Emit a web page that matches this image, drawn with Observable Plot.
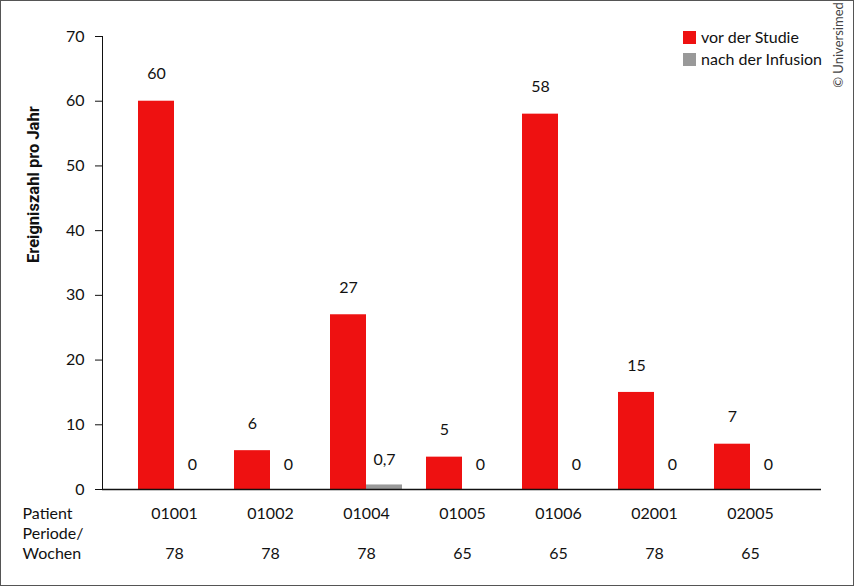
<!DOCTYPE html>
<html><head><meta charset="utf-8">
<script src="https://cdn.jsdelivr.net/npm/d3@7"></script>
<script src="https://cdn.jsdelivr.net/npm/@observablehq/plot@0.6"></script>
<style>
body{margin:0;background:#fff;}
#wrap{position:relative;width:854px;height:586px;overflow:hidden;font-family:Lato,"Noto Sans",sans-serif;color:#111;}
#border{position:absolute;left:0;top:0;width:852px;height:584px;border:1px solid #555;pointer-events:none;}
.legend{position:absolute;left:683px;font-size:16px;line-height:16px;display:flex;align-items:center;}
.sw{width:13px;height:13px;margin-right:5px;}
#copy{position:absolute;left:838px;top:45px;transform:translate(-50%,-50%) rotate(-90deg);font-size:13px;color:#444;white-space:nowrap;}
</style></head>
<body>
<div id="wrap">
  <div id="chart"></div>
  <div class="legend" style="top:29px"><div class="sw" style="background:#ee1111"></div>vor der Studie</div>
  <div class="legend" style="top:51px"><div class="sw" style="background:#999"></div>nach der Infusion</div>
  <div id="copy">© Universimed</div>
  <div id="border"></div>
</div>
<script>
const patients = ["01001","01002","01004","01005","01006","02001","02005"];
const vorStudie = [60,6,27,5,58,15,7];
const nachInfusion = [0,0,0.7,0,0,0,0];
const wochen = [78,78,78,65,65,78,65];
const yTicks = [0,10,20,30,40,50,60,70];
const rowLabels = ["Patient","Periode/","Wochen"];

const fmt = v => v.toLocaleString("de-DE");
const vorData = patients.map((p,i)=>({patient:p, value:vorStudie[i], wochen:wochen[i]}));
const nachData = patients.map((p,i)=>({patient:p, value:nachInfusion[i]}));

const chart = Plot.plot({
  width:854, height:586,
  marginTop:36, marginBottom:97, marginLeft:102, marginRight:33,
  style:{fontFamily:'Lato,"Noto Sans",sans-serif', fontSize:"16px", color:"#111", background:"transparent"},
  x:{domain:patients, paddingInner:0.25, paddingOuter:0.36, axis:null},
  y:{domain:[0,70], ticks:yTicks, tickSize:7, tickPadding:11, line:true, label:null},
  marks:[
    Plot.barY(vorData, {x:"patient", y:"value", fill:"#ee1111", insetRight:36}),
    Plot.barY(nachData, {x:"patient", y:"value", fill:"#999999", insetLeft:36}),
    Plot.ruleY([0], {stroke:"#111", strokeWidth:1.5}),
    Plot.text(vorData, {x:"patient", y:"value", text:d=>fmt(d.value), dx:-18, dy:-27, fontSize:16}),
    Plot.text(nachData, {x:"patient", y:"value", text:d=>fmt(d.value), dx:18, dy:-25, fontSize:16}),
    Plot.text(vorData, {x:"patient", text:"patient", frameAnchor:"bottom", dy:29, fontSize:16}),
    Plot.text(vorData, {x:"patient", text:d=>String(d.wochen), frameAnchor:"bottom", dy:69, fontSize:16}),
    Plot.text([rowLabels[0]], {frameAnchor:"bottom-left", textAnchor:"start", dx:-80, dy:29, fontSize:16}),
    Plot.text([rowLabels[1]], {frameAnchor:"bottom-left", textAnchor:"start", dx:-80, dy:49, fontSize:16}),
    Plot.text([rowLabels[2]], {frameAnchor:"bottom-left", textAnchor:"start", dx:-80, dy:69, fontSize:16}),
    Plot.text(["Ereigniszahl pro Jahr"], {frameAnchor:"left", rotate:-90, dx:-69, fontSize:16.5, fontWeight:"bold", fontFamily:"Roboto"})
  ]
});
document.getElementById("chart").appendChild(chart);
</script>
</body></html>
